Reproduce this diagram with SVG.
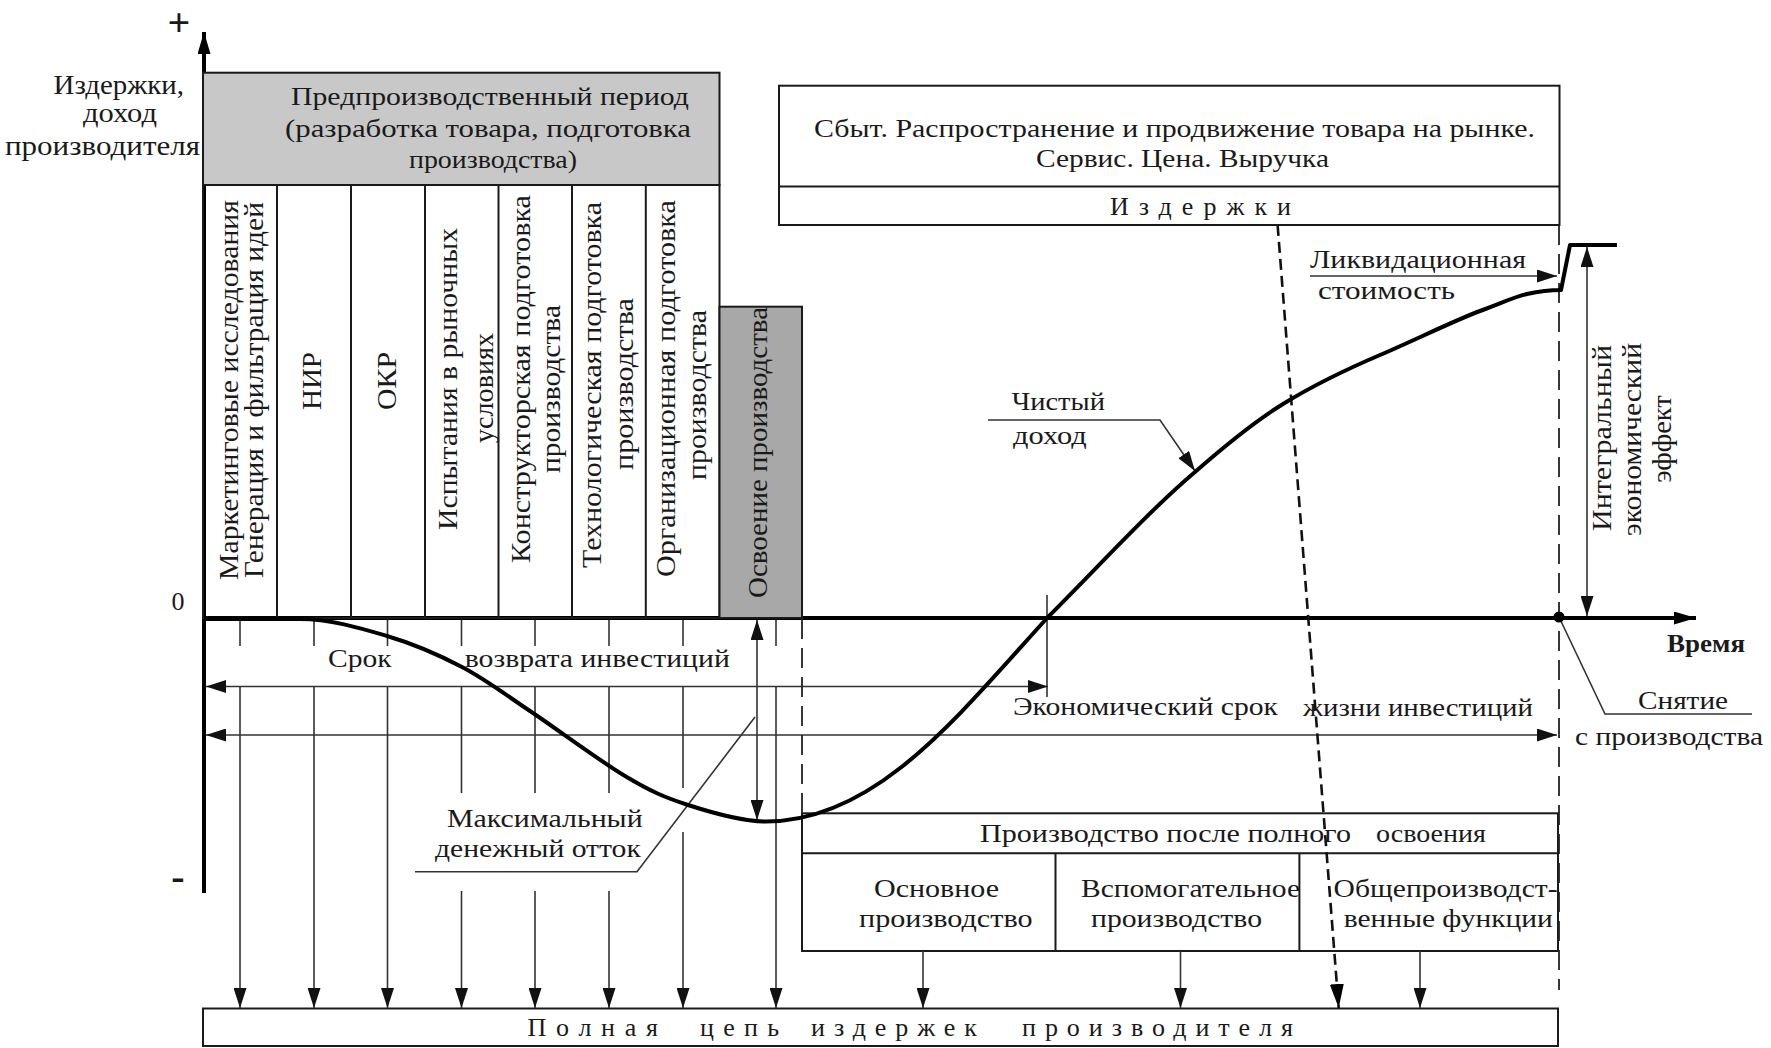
<svg xmlns="http://www.w3.org/2000/svg" width="1771" height="1048" viewBox="0 0 1771 1048">
<style>
.t{font-family:"Liberation Serif","Times New Roman",serif;font-size:26px;fill:#1a1a1a}
.v{font-size:27px}
.b{font-weight:bold}
.big{font-size:40px}
.box{fill:none;stroke:#1a1a1a;stroke-width:2}
.ln{fill:none;stroke:#333;stroke-width:1.6}
.ax{fill:none;stroke:#000;stroke-width:4}
.cv{fill:none;stroke:#000;stroke-width:4;stroke-linejoin:round}
.dash{fill:none;stroke:#222;stroke-width:1.8;stroke-dasharray:20 9}
.dash2{fill:none;stroke:#111;stroke-width:2.6;stroke-dasharray:11 6}
</style>
<defs>
<marker id="ah" viewBox="0 0 20 13" refX="20" refY="6.5" markerWidth="20" markerHeight="13" markerUnits="userSpaceOnUse" orient="auto-start-reverse"><path d="M0,0 L20,6.5 L0,13 z" fill="#111"/></marker>
<marker id="ahb" viewBox="0 0 24 14" refX="24" refY="7" markerWidth="24" markerHeight="14" markerUnits="userSpaceOnUse" orient="auto"><path d="M0,0 L24,7 L0,14 z" fill="#000"/></marker>
<marker id="ahx" viewBox="0 0 22 13" refX="22" refY="6.5" markerWidth="22" markerHeight="13" markerUnits="userSpaceOnUse" orient="auto"><path d="M0,0 L22,6.5 L0,13 z" fill="#000"/></marker>
</defs>
<rect width="1771" height="1048" fill="#fff"/>

<g id="axes">
<line class="ax" x1="204" y1="893" x2="204" y2="32" marker-end="url(#ahx)"/>
<line class="ax" x1="204" y1="618" x2="1696" y2="618" marker-end="url(#ahx)"/>
<text class="t b big" x="179" y="36" text-anchor="middle">+</text>
<text class="t" x="178" y="610" text-anchor="middle">0</text>
<text class="t b big" x="178" y="890" text-anchor="middle">-</text>
<text class="t v" x="53.5" y="94" textLength="130.5" lengthAdjust="spacingAndGlyphs">Издержки,</text>
<text class="t v" x="83" y="122" textLength="74" lengthAdjust="spacingAndGlyphs">доход</text>
<text class="t v" x="5" y="155" textLength="195" lengthAdjust="spacingAndGlyphs">производителя</text>
<text class="t b" x="1667" y="652" textLength="78" lengthAdjust="spacingAndGlyphs">Время</text>
</g>

<g id="preproduction">
<rect x="203" y="72.7" width="516.5" height="112.3" fill="#c8c8c8" stroke="#1a1a1a" stroke-width="2"/>
<text class="t" x="291" y="105" textLength="398" lengthAdjust="spacingAndGlyphs">Предпроизводственный период</text>
<text class="t" x="285" y="137" textLength="406" lengthAdjust="spacingAndGlyphs">(разработка товара, подготовка</text>
<text class="t" x="409" y="168" textLength="168" lengthAdjust="spacingAndGlyphs">производства)</text>
</g>

<g id="stages">
<rect class="box" x="203" y="185" width="516.5" height="433"/>
<path class="box" d="M277,185V618M351,185V618M425,185V618M498.5,185V618M572,185V618M645.8,185V618"/>
</g>
<g id="stage-marketing">
<text class="t v" transform="translate(237.5,390) rotate(-90)" text-anchor="middle" textLength="380" lengthAdjust="spacingAndGlyphs">Маркетинговые исследования</text>
<text class="t v" transform="translate(263,390) rotate(-90)" text-anchor="middle" textLength="376" lengthAdjust="spacingAndGlyphs">Генерация и фильтрация идей</text>
</g>
<g id="stage-nir"><text class="t v" transform="translate(321,381) rotate(-90)" text-anchor="middle" textLength="58" lengthAdjust="spacingAndGlyphs">НИР</text></g>
<g id="stage-okr"><text class="t v" transform="translate(396,381) rotate(-90)" text-anchor="middle" textLength="58" lengthAdjust="spacingAndGlyphs">ОКР</text></g>
<g id="stage-tests">
<text class="t v" transform="translate(457,379) rotate(-90)" text-anchor="middle" textLength="302" lengthAdjust="spacingAndGlyphs">Испытания в рыночных</text>
<text class="t v" transform="translate(492.5,388) rotate(-90)" text-anchor="middle" textLength="110" lengthAdjust="spacingAndGlyphs">условиях</text>
</g>
<g id="stage-design">
<text class="t v" transform="translate(530,379) rotate(-90)" text-anchor="middle" textLength="368" lengthAdjust="spacingAndGlyphs">Конструкторская подготовка</text>
<text class="t v" transform="translate(560,389) rotate(-90)" text-anchor="middle" textLength="168" lengthAdjust="spacingAndGlyphs">производства</text>
</g>
<g id="stage-tech">
<text class="t v" transform="translate(601,385) rotate(-90)" text-anchor="middle" textLength="366" lengthAdjust="spacingAndGlyphs">Технологическая подготовка</text>
<text class="t v" transform="translate(633,384) rotate(-90)" text-anchor="middle" textLength="172" lengthAdjust="spacingAndGlyphs">производства</text>
</g>
<g id="stage-org">
<text class="t v" transform="translate(674.5,388.5) rotate(-90)" text-anchor="middle" textLength="377" lengthAdjust="spacingAndGlyphs">Организационная подготовка</text>
<text class="t v" transform="translate(706,395) rotate(-90)" text-anchor="middle" textLength="170" lengthAdjust="spacingAndGlyphs">производства</text>
</g>
<g id="mastering">
<rect x="719.5" y="306.7" width="82.5" height="311.3" fill="#a8a8a8" stroke="#1a1a1a" stroke-width="2"/>
<text class="t v" transform="translate(767,452.5) rotate(-90)" text-anchor="middle" textLength="291" lengthAdjust="spacingAndGlyphs">Освоение производства</text>
</g>

<g id="sales">
<rect class="box" x="779" y="85.7" width="780.5" height="139.3"/>
<line class="box" x1="779" y1="186.5" x2="1559.5" y2="186.5"/>
<text class="t" x="814" y="137" textLength="721" lengthAdjust="spacingAndGlyphs">Сбыт. Распространение и продвижение товара на рынке.</text>
<text class="t" x="1036" y="167" textLength="293" lengthAdjust="spacingAndGlyphs">Сервис. Цена. Выручка</text>
<text class="t" x="1110" y="215" textLength="181" lengthAdjust="spacing">Издержки</text>
</g>

<g id="production">
<rect class="box" x="802" y="813.3" width="756" height="137.7"/>
<path class="box" d="M802,853.3H1558M1055.5,853.3V951M1299.4,853.3V951"/>
<text class="t" x="980" y="842" textLength="371" lengthAdjust="spacingAndGlyphs">Производство после полного</text>
<text class="t" x="1376" y="842" textLength="110" lengthAdjust="spacingAndGlyphs">освоения</text>
</g>
<g id="prod-main">
<text class="t" x="874" y="897" textLength="125" lengthAdjust="spacingAndGlyphs">Основное</text>
<text class="t" x="859" y="927" textLength="173.5" lengthAdjust="spacingAndGlyphs">производство</text>
</g>
<g id="prod-aux">
<text class="t" x="1081" y="897" textLength="219" lengthAdjust="spacingAndGlyphs">Вспомогательное</text>
<text class="t" x="1091" y="927" textLength="171" lengthAdjust="spacingAndGlyphs">производство</text>
</g>
<g id="prod-general">
<text class="t" x="1333.6" y="897" textLength="224" lengthAdjust="spacingAndGlyphs">Общепроизводст-</text>
<text class="t" x="1343.8" y="927" textLength="209" lengthAdjust="spacingAndGlyphs">венные функции</text>
</g>

<g id="full-chain">
<rect class="box" x="203" y="1008.5" width="1355" height="37.5"/>
<text class="t" x="527.5" y="1036" textLength="130.5" lengthAdjust="spacing">Полная</text>
<text class="t" x="700" y="1036" textLength="79" lengthAdjust="spacing">цепь</text>
<text class="t" x="811" y="1036" textLength="166" lengthAdjust="spacing">издержек</text>
<text class="t" x="1022" y="1036" textLength="271" lengthAdjust="spacing">производителя</text>
</g>

<g id="labels">
<text class="t" x="328" y="667" textLength="63.7" lengthAdjust="spacingAndGlyphs">Срок</text>
<text class="t" x="464.8" y="667" textLength="265" lengthAdjust="spacingAndGlyphs">возврата инвестиций</text>
<text class="t" x="1013" y="715" textLength="265" lengthAdjust="spacingAndGlyphs">Экономический срок</text>
<text class="t" x="1303" y="716" textLength="230" lengthAdjust="spacingAndGlyphs">жизни инвестиций</text>
<text class="t" x="447" y="827" textLength="195.7" lengthAdjust="spacingAndGlyphs">Максимальный</text>
<text class="t" x="435" y="857" textLength="205.8" lengthAdjust="spacingAndGlyphs">денежный отток</text>
<text class="t" x="1011.7" y="410" textLength="93.3" lengthAdjust="spacingAndGlyphs">Чистый</text>
<text class="t" x="1013" y="444" textLength="73.7" lengthAdjust="spacingAndGlyphs">доход</text>
<text class="t" x="1310" y="268" textLength="216" lengthAdjust="spacingAndGlyphs">Ликвидационная</text>
<text class="t" x="1318" y="299" textLength="137" lengthAdjust="spacingAndGlyphs">стоимость</text>
<text class="t" x="1638" y="709" textLength="90" lengthAdjust="spacingAndGlyphs">Снятие</text>
<text class="t" x="1575" y="745" textLength="188" lengthAdjust="spacingAndGlyphs">с производства</text>
<text class="t v" transform="translate(1611,438) rotate(-90)" text-anchor="middle" textLength="186" lengthAdjust="spacingAndGlyphs">Интегральный</text>
<text class="t v" transform="translate(1641,439.5) rotate(-90)" text-anchor="middle" textLength="193" lengthAdjust="spacingAndGlyphs">экономический</text>
<text class="t v" transform="translate(1671,439) rotate(-90)" text-anchor="middle" textLength="87.5" lengthAdjust="spacingAndGlyphs">эффект</text>
</g>

<g id="connectors">
<path class="ln" d="M240,620V646M314,620V646M387.5,620V646M461.5,620V646M535,620V646M609,620V646M683,620V646M776,620V646M1047,595V697"/>
<g class="ln" marker-end="url(#ah)">
<path d="M240,686.5V1008"/>
<path d="M314,686.5V1008"/>
<path d="M387.5,686.5V1008"/>
<path d="M461.5,891V1008"/>
<path d="M535,891V1008"/>
<path d="M609,891V1008"/>
<path d="M683,832V1008"/>
<path d="M776,686.5V1008"/>
<path d="M923,951V1008"/>
<path d="M1180.5,951V1008"/>
<path d="M1420,951V1008"/>
</g>
<path class="ln" d="M461.5,686.5V793M535,686.5V793M609,686.5V793M683,686.5V788"/>
<line class="ln" x1="206" y1="686.5" x2="1048" y2="686.5" marker-start="url(#ah)" marker-end="url(#ah)"/>
<line class="ln" x1="206" y1="735" x2="1557" y2="735" marker-start="url(#ah)" marker-end="url(#ah)"/>
<line class="ln" x1="757" y1="620" x2="757" y2="820" marker-start="url(#ah)" marker-end="url(#ah)"/>
<polyline class="ln" points="755,717 637,871.7 415,871.7" stroke-width="1.3"/>
<line class="ln" x1="1587" y1="247" x2="1587" y2="616" marker-start="url(#ah)" marker-end="url(#ah)"/>
<line class="ln" x1="1310" y1="276" x2="1557" y2="276" marker-end="url(#ah)"/>
<polyline class="ln" points="988,420 1160,420 1195,471" marker-end="url(#ah)"/>
<polyline class="ln" points="1559,617 1605,714 1752,714" stroke-width="1.4"/>
<line class="dash" x1="802" y1="619" x2="802" y2="813"/>
<line class="dash" x1="1559" y1="225" x2="1559" y2="990"/>
<line class="dash2" x1="1277.6" y1="225" x2="1338.7" y2="1008" marker-end="url(#ahb)"/>
<path class="cv" d="M204,619 L300,619 C330,619 360,628 387,636 C414,644 438.2,654.5 462,667 C485.8,679.5 502.8,692.8 530,711 C557.2,729.2 598.7,760.3 625,776 C651.3,791.7 664.5,797.4 688,805 C711.5,812.6 745,821.5 766,821.5 C876,821.5 958,716 1048,617 C1098,567 1150,510 1195,472 C1222.7,447.7 1252.2,423 1283,404 C1313.8,385 1347.2,369 1380,355 C1412.8,341 1455.5,320 1480,311 C1504.5,302 1513.5,297 1527,294 C1540.5,291 1550,290 1561,290 L1570,245 L1617,245"/>
<circle cx="1559" cy="617" r="5.5" fill="#000"/>
</g>
</svg>
